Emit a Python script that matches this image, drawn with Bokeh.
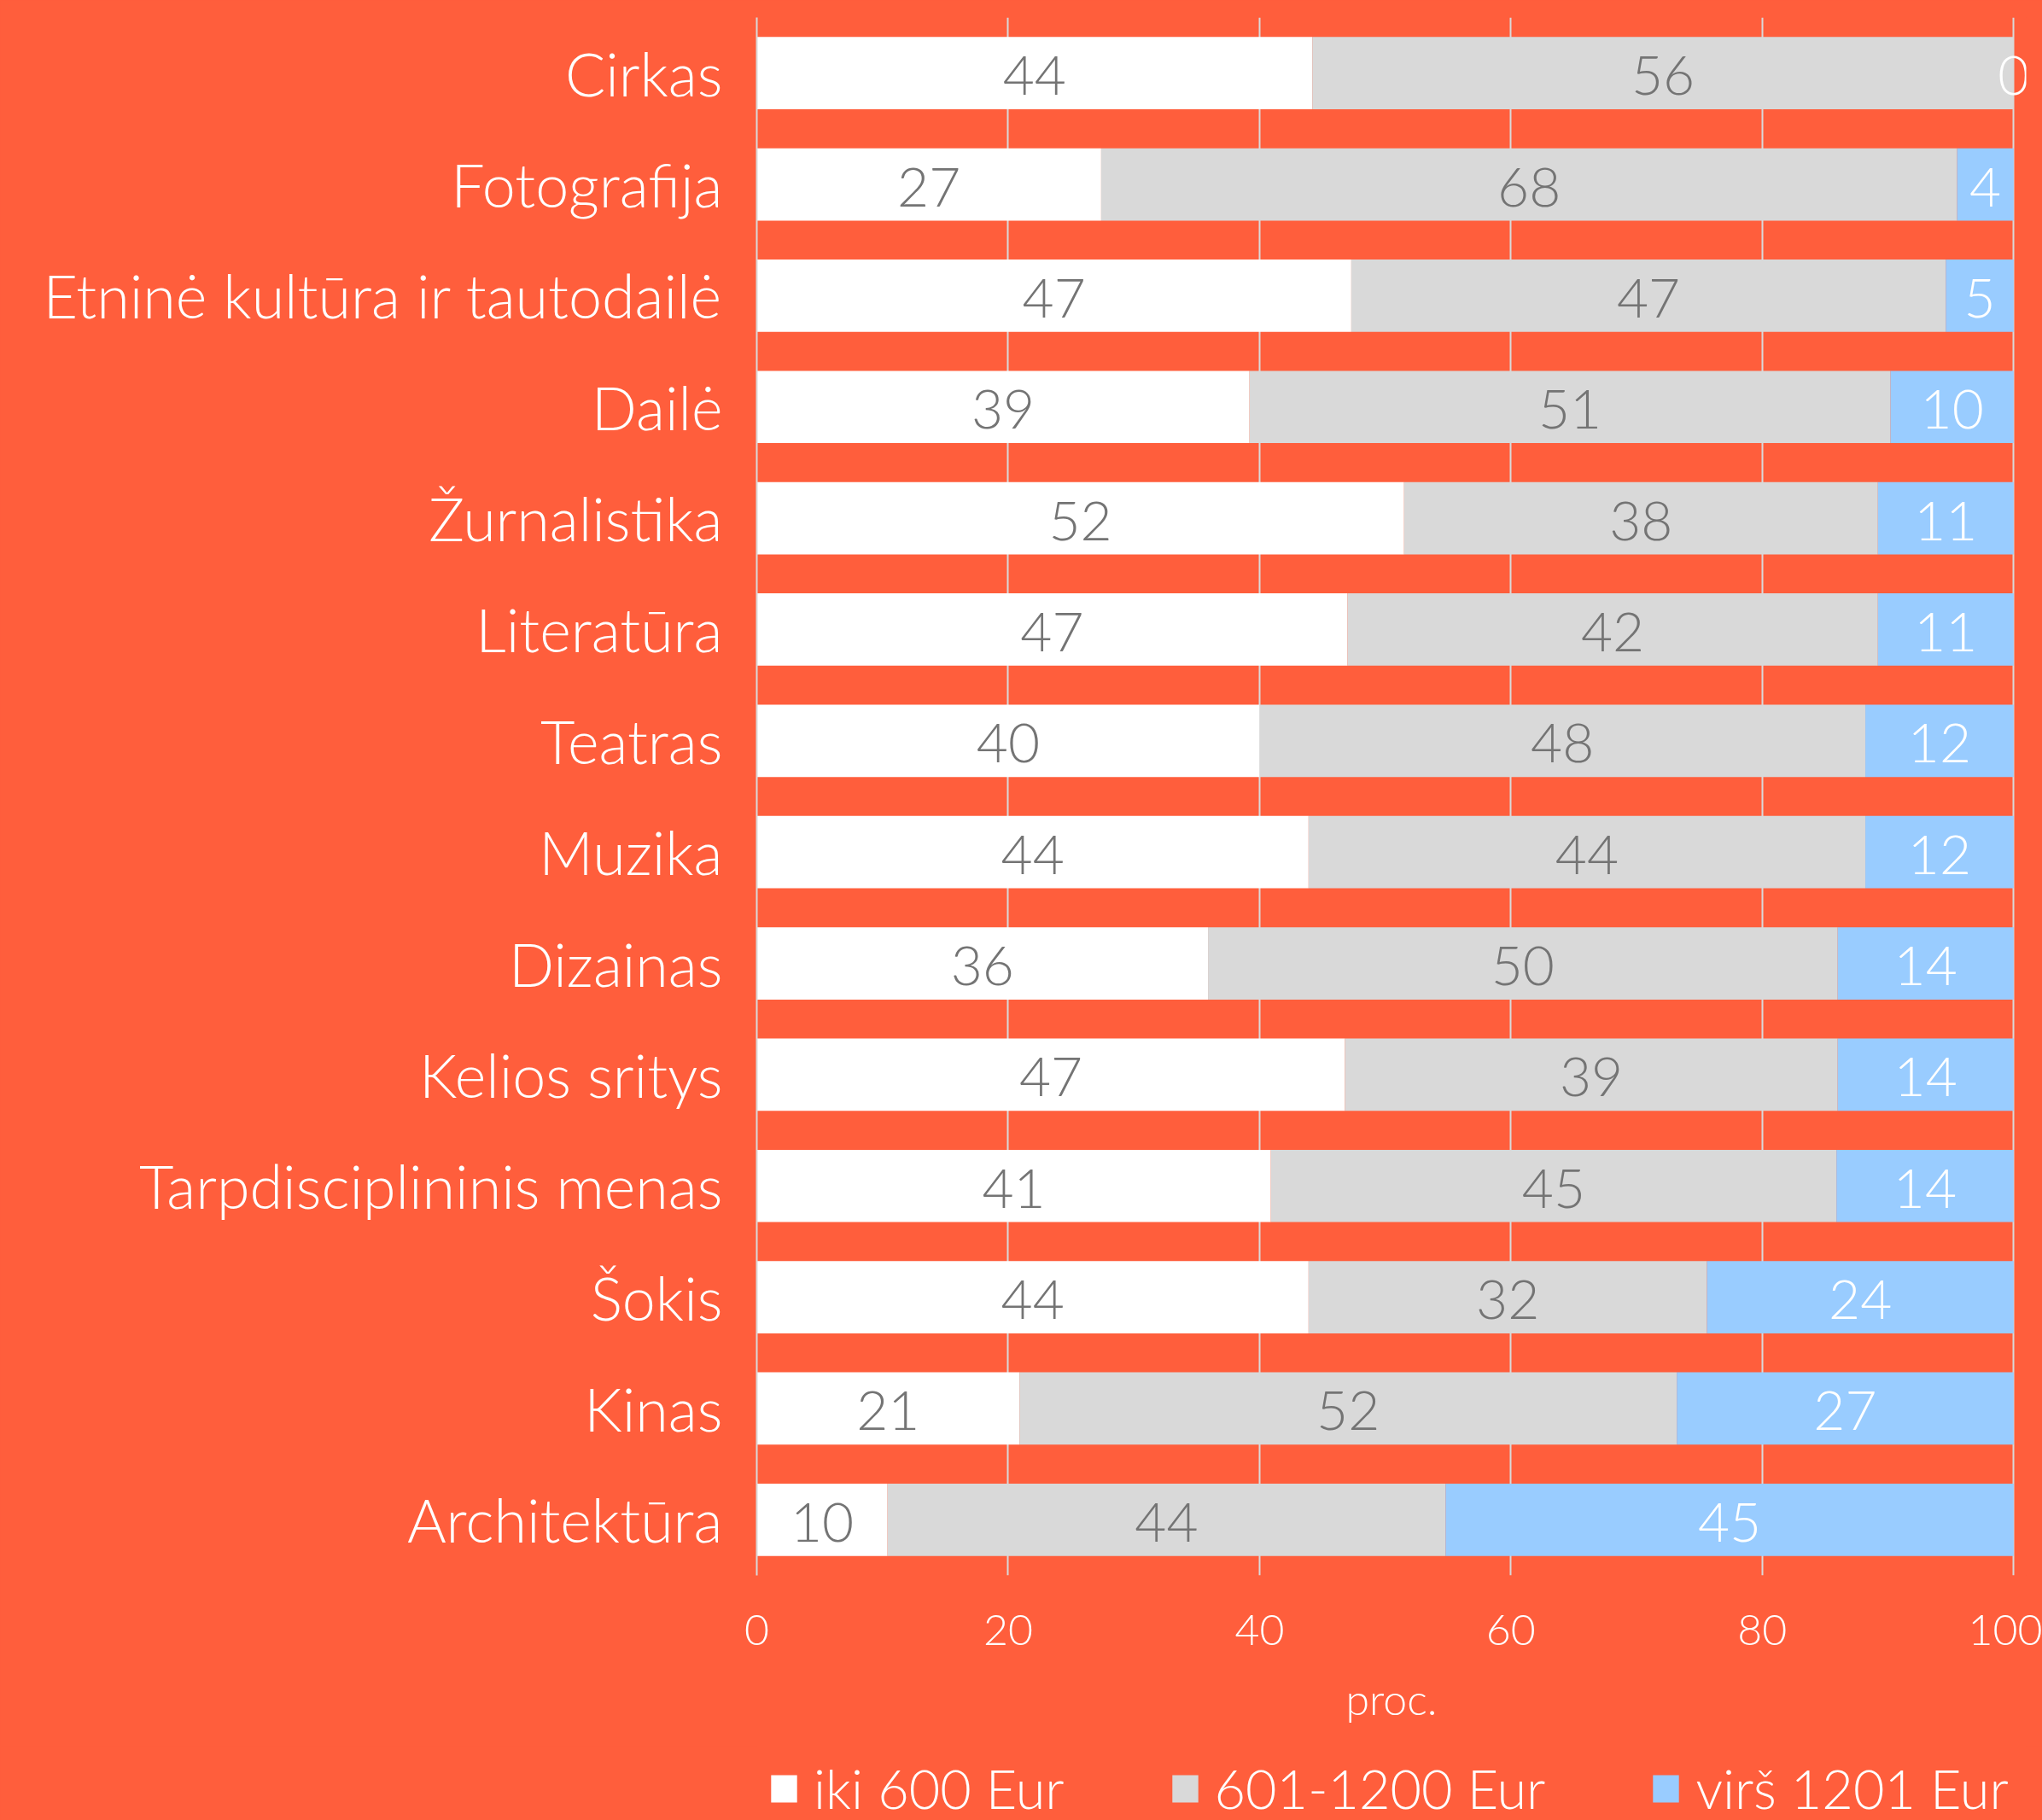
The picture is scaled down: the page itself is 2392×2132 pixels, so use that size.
from bokeh.plotting import figure
from bokeh.layouts import column
from bokeh.models import (ColumnDataSource, Range1d, FactorRange, LabelSet, Legend, LegendItem,
                          GlobalInlineStyleSheet)
from bokeh.core.properties import value
from bokeh.embed import file_html
from bokeh.resources import INLINE

categories = ["Cirkas", "Fotografija", "Etninė kultūra ir tautodailė", "Dailė", "Žurnalistika",
              "Literatūra", "Teatras", "Muzika", "Dizainas", "Kelios sritys",
              "Tarpdisciplininis menas", "Šokis", "Kinas", "Architektūra"]
low = [44.2, 27.4, 47.3, 39.2, 51.5, 47.0, 40.0, 43.9, 35.9, 46.8, 40.9, 43.9, 20.9, 10.4]
mid = [55.8, 68.1, 47.3, 51.0, 37.7, 42.2, 48.2, 44.3, 50.1, 39.2, 45.0, 31.7, 52.3, 44.4]
high = [0.0, 4.5, 5.4, 9.8, 10.8, 10.8, 11.8, 11.8, 14.0, 14.0, 14.1, 24.4, 26.8, 45.2]
series_names = ["iki 600 Eur", "601-1200 Eur", "virš 1201 Eur"]
x_ticks = [0, 20, 40, 60, 80, 100]

BG = "#FF5E3C"
WHITE = "#FFFFFF"
GREY = "#D9D9D9"
BLUE = "#99CCFF"
LBL = "#747474"
FONT = "'Lato Light', Lato"
colors = [WHITE, GREY, BLUE]

src = ColumnDataSource(dict(cat=categories, low=low, mid=mid, high=high))

p = figure(width=2392, height=2045, y_range=FactorRange(factors=categories[::-1]),
           x_range=Range1d(0, 101), output_backend="svg", toolbar_location=None,
           min_border_left=886, min_border_right=19, min_border_top=20, min_border_bottom=200)
p.stylesheets = [GlobalInlineStyleSheet(css="body{background:%s;}" % BG)]
p.background_fill_color = BG
p.border_fill_color = BG
p.outline_line_color = None

p.hbar_stack(["low", "mid", "high"], y="cat", height=0.65, color=colors,
             line_color=None, source=src)

# value labels
cen_x, cen_y, txt, col = [], [], [], []
for c, a, b, h in zip(categories, low, mid, high):
    for start, w, tc in ((0, a, LBL), (a, b, LBL), (a + b, h, WHITE)):
        cen_x.append(start + w / 2.0)
        cen_y.append(c)
        txt.append(str(int(round(w))))
        col.append(tc)
lsrc = ColumnDataSource(dict(x=cen_x, y=cen_y, t=txt, c=col))
p.add_layout(LabelSet(x="x", y="y", text="t", source=lsrc, text_color="c",
                      text_font=value(FONT), text_font_size="64px", text_align="center",
                      text_baseline="middle", y_offset=-3))

# axes
p.xaxis.ticker = x_ticks
p.xaxis.axis_line_color = None
p.xaxis.major_tick_line_color = None
p.xaxis.minor_tick_line_color = None
p.xaxis.major_label_text_color = WHITE
p.xaxis.major_label_text_font = FONT
p.xaxis.major_label_text_font_size = "50px"
p.xaxis.major_label_standoff = 40
p.xaxis.axis_label = "proc."
p.xaxis.axis_label_text_color = WHITE
p.xaxis.axis_label_text_font = FONT
p.xaxis.axis_label_text_font_size = "50px"
p.xaxis.axis_label_text_font_style = "normal"
p.xaxis.axis_label_standoff = 30

p.yaxis.axis_line_color = GREY
p.yaxis.axis_line_width = 2
p.yaxis.major_tick_line_color = None
p.yaxis.minor_tick_line_color = None
p.yaxis.major_label_text_color = WHITE
p.yaxis.major_label_text_font = FONT
p.yaxis.major_label_text_font_size = "70px"
p.yaxis.major_label_standoff = 34

p.ygrid.grid_line_color = None
p.xgrid.grid_line_color = GREY
p.xgrid.grid_line_width = 2

# legend strip (its frame is aligned with the main frame by the column layout)
p2 = figure(width=2392, height=87, x_range=Range1d(0, 1), y_range=Range1d(0, 1),
            x_axis_type=None, y_axis_type=None, output_backend="svg", toolbar_location=None,
            min_border=0)
p2.background_fill_color = BG
p2.border_fill_color = BG
p2.outline_line_color = None
p2.grid.visible = False
items = []
for name, c in zip(series_names, colors):
    # swatch-only renderer, kept outside the visible range
    r = p2.hbar(y=[-5], left=[0], right=[1], height=0.5, color=c, line_color=None)
    items.append(LegendItem(label=name, renderers=[r]))
lg = Legend(items=items, orientation="horizontal", location=(13, 0))
lg.background_fill_alpha = 0
lg.border_line_color = None
lg.label_text_color = WHITE
lg.label_text_font = FONT
lg.label_text_font_size = "63px"
lg.glyph_width = 38
lg.glyph_height = 40
lg.label_standoff = 16
lg.spacing = 122
lg.padding = 0
lg.margin = 0
p2.add_layout(lg)

layout = column(p, p2, spacing=0)
open("out.html", "w").write(file_html(layout, INLINE))
